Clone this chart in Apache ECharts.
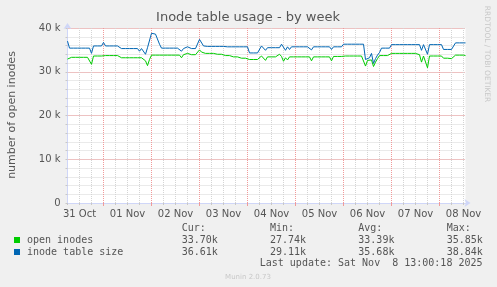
<!DOCTYPE html>
<html>
<head>
<meta charset="utf-8">
<script src="https://cdn.jsdelivr.net/npm/echarts@6/dist/echarts.min.js"></script>
<style>
html,body{margin:0;padding:0;background:#f0f0f0;}
#c{width:497px;height:287px;}
</style>
</head>
<body>
<div id="c"></div>
<script>
// hours since 31 Oct 00:00, one sample per hour, from hour 6 to hour 205 (08 Nov 13:00)
var firstHour = 6;
var lastHour = 205;
var dayLabels = ['31 Oct','01 Nov','02 Nov','03 Nov','04 Nov','05 Nov','06 Nov','07 Nov','08 Nov'];
var dayLabelHours = [12,36,60,84,108,132,156,180,204];
var dayBoundaries = [24,48,72,96,120,144,168,192];
var minorHours = [6,12,18,30,36,42,54,60,66,78,84,90,102,108,114,126,132,138,150,156,162,174,180,186,198,204];
var yTickLabels = ['0','10 k','20 k','30 k','40 k'];

// open inodes (thousands)
var openInodes = [
 32.9,33.3,33.3,33.3,33.3,33.3,33.3,33.3,33.3,33.3,33.3,33.3,31.7,33.6,33.6,33.6,33.6,33.6,
 33.7,33.7,33.7,33.7,33.7,33.7,33.7,33.7,33.7,33.2,33.2,33.2,33.2,33.2,33.2,33.2,33.2,33.2,33.2,33.2,33.2,32.5,31.4,32.8,
 33.8,33.8,33.8,33.8,33.8,33.8,33.8,33.8,33.8,33.8,33.8,33.8,33.8,33.8,33.8,33.2,33.9,33.9,34.2,33.9,33.9,33.9,33.9,33.5,
 35.0,34.5,34.2,34.2,34.2,34.2,34.2,34.2,34.0,34.0,34.0,34.0,34.0,33.7,33.7,33.7,33.7,33.4,33.4,33.4,33.4,33.1,33.1,33.1,
 33.1,32.8,32.8,32.8,32.8,32.8,32.4,33.6,33.6,32.6,33.4,33.4,33.4,33.4,33.4,33.4,34.0,33.5,32.4,33.2,32.7,33.4,33.4,33.4,
 33.4,33.4,33.4,33.4,33.4,33.4,33.4,33.4,32.5,33.4,33.4,33.4,33.4,33.4,33.4,33.4,33.4,33.4,32.5,33.5,33.5,33.5,33.1,33.5,
 33.6,33.6,33.6,33.6,33.6,33.6,33.6,33.6,33.6,33.6,33.6,31.3,32.6,32.5,32.7,31.2,32.2,33.0,33.7,33.7,33.7,33.7,33.7,33.7,
 34.2,34.2,34.2,34.2,34.2,34.2,34.2,34.2,34.2,34.2,34.2,34.2,34.2,33.9,33.9,32.2,33.6,33.6,30.9,33.6,33.6,33.6,33.6,33.6,
 33.6,33.6,33.1,33.1,33.1,32.9,33.0,33.4,33.8,33.8,33.8,33.8,33.8,33.7
];
// inode table size (thousands)
var tableSize = [
 37.0,35.4,35.4,35.4,35.4,35.4,35.4,35.4,35.4,35.4,35.4,35.4,34.2,35.9,35.9,35.9,35.9,35.9,
 36.7,35.9,35.9,35.9,35.9,35.9,35.9,35.9,35.9,35.3,35.3,35.3,35.3,35.3,35.3,35.3,35.3,35.3,34.7,35.3,35.3,34.0,35.5,35.5,
 38.8,38.8,38.6,38.5,36.3,35.4,35.4,35.4,35.8,35.4,35.4,35.4,35.4,35.4,35.4,34.7,35.3,35.3,35.7,35.3,35.3,35.3,35.3,35.0,
 37.4,37.2,35.9,35.8,35.8,35.8,35.8,35.8,35.8,35.8,35.8,35.8,35.8,35.8,35.7,35.7,35.7,35.7,35.7,35.7,35.7,35.7,35.7,35.7,
 35.7,34.3,34.3,34.3,34.3,34.3,34.3,35.9,35.9,34.9,35.5,35.5,35.5,35.5,35.5,35.5,35.5,36.3,36.3,34.9,35.7,35.1,35.7,35.7,
 35.7,36.0,35.7,35.7,35.7,35.7,35.7,35.7,35.0,35.7,35.7,35.7,35.7,35.7,35.7,35.7,35.7,35.7,35.1,35.7,35.7,35.7,35.7,35.7,
 36.3,36.3,36.3,36.3,36.3,36.3,36.3,36.3,36.3,36.3,36.3,32.8,33.0,33.2,34.2,31.9,33.0,33.8,34.4,35.4,35.4,35.4,35.4,35.4,
 36.2,36.2,36.2,36.2,36.2,36.2,36.2,36.2,36.2,36.2,36.2,36.2,36.2,36.2,36.2,34.9,36.2,36.2,34.0,36.2,36.2,36.2,36.2,36.2,
 36.2,36.2,35.1,35.1,35.1,35.1,35.1,35.1,36.6,36.6,36.6,36.6,36.6,36.6
];

var seriesNames = ['open inodes','inode table size'];
var seriesColors = ['#00cc00','#0066b3'];
var statHeaders = ['Cur:','Min:','Avg:','Max:'];
var statsOpen = ['33.70k','27.74k','33.39k','35.85k'];
var statsSize = ['36.61k','29.11k','35.68k','38.84k'];
var lastUpdate = 'Last update: Sat Nov  8 13:00:18 2025';

function pairs(arr){ return arr.map(function(v,i){ return [firstHour + i, v]; }); }

var FONT = 'DejaVu Sans';
var MONO = 'DejaVu Sans Mono';
var TXT = '#555';
var axisCol = '#cfd6f8';
var minorGrid = {color:'#d4d4d4', width:1, type:[1,1]};
var majorGrid = {color:'#f09a9a', width:1, type:[1,1]};

var chart = echarts.init(document.getElementById('c'), null, {renderer:'canvas'});

var statCols = [181.7, 270, 358.3, 446.7];
var graphics = [
  {type:'text', x:248, y:18, style:{text:'Inode table usage - by week', font:'13px '+FONT, fill:TXT, align:'center', verticalAlign:'middle'}},
  {type:'text', x:12, y:115, rotation:Math.PI/2, style:{text:'number of open inodes', font:'11px '+FONT, fill:TXT, align:'center', verticalAlign:'middle'}},
  {type:'text', x:487, y:54, rotation:-Math.PI/2, style:{text:'RRDTOOL / TOBI OETIKER', font:'7.5px '+FONT, fill:'#c8c8c8', align:'center', verticalAlign:'middle'}},
  {type:'rect', shape:{x:14, y:237, width:6, height:6}, style:{fill:seriesColors[0]}},
  {type:'rect', shape:{x:14, y:249, width:6, height:6}, style:{fill:seriesColors[1]}},
  {type:'text', x:27, y:240, style:{text:seriesNames[0], font:'10px '+MONO, fill:TXT, verticalAlign:'middle'}},
  {type:'text', x:27, y:252, style:{text:seriesNames[1], font:'10px '+MONO, fill:TXT, verticalAlign:'middle'}},
  {type:'text', x:482.5, y:263.5, style:{text:lastUpdate, font:'10px '+MONO, fill:TXT, align:'right', verticalAlign:'middle'}},
  {type:'text', x:248, y:277, style:{text:'Munin 2.0.73', font:'7px '+FONT, fill:'#c8c8c8', align:'center', verticalAlign:'middle'}}
];
statHeaders.forEach(function(h,i){
  graphics.push({type:'text', x:statCols[i], y:228, style:{text:h, font:'10px '+MONO, fill:TXT, verticalAlign:'middle'}});
  graphics.push({type:'text', x:statCols[i], y:240, style:{text:statsOpen[i], font:'10px '+MONO, fill:TXT, verticalAlign:'middle'}});
  graphics.push({type:'text', x:statCols[i], y:252, style:{text:statsSize[i], font:'10px '+MONO, fill:TXT, verticalAlign:'middle'}});
});

var option = {
  backgroundColor:'#f0f0f0',
  animation:false,
  grid:{left:67.5, right:31.5, top:28, bottom:84, show:true, backgroundColor:'#ffffff', borderWidth:0, containLabel:false, outerBoundsMode:'none'},
  xAxis:[{
    type:'value', min:firstHour, max:lastHour,
    axisLine:{show:true, lineStyle:{color:axisCol, width:1}, symbol:['none','arrow'], symbolSize:[6,6], symbolOffset:[0,5]},
    axisTick:{show:true, length:2, customValues:minorHours, lineStyle:{color:'#c8c8c8'}},
    axisLabel:{show:true, margin:6, color:TXT, fontFamily:FONT, fontSize:10, customValues:dayLabelHours,
      formatter:function(v){ var i = dayLabelHours.indexOf(v); return i >= 0 ? dayLabels[i] : ''; }},
    splitLine:{show:true, lineStyle:minorGrid}
  },{
    type:'value', min:firstHour, max:lastHour, position:'bottom',
    axisLine:{show:false},
    axisTick:{show:true, length:3, customValues:dayBoundaries, lineStyle:{color:'#f09a9a'}},
    axisLabel:{show:false, customValues:dayBoundaries},
    splitLine:{show:true, lineStyle:majorGrid}
  }],
  yAxis:[{
    type:'value', min:0, max:40, interval:2,
    axisLine:{show:true, lineStyle:{color:axisCol, width:1}, symbol:['none','arrow'], symbolSize:[6,6], symbolOffset:[0,5]},
    axisTick:{show:true, length:2, lineStyle:{color:'#c8c8c8'}},
    axisLabel:{show:false},
    splitLine:{show:true, lineStyle:minorGrid}
  },{
    type:'value', min:0, max:40, interval:10, position:'left',
    axisLine:{show:false}, axisTick:{show:false},
    axisLabel:{show:true, margin:7, color:TXT, fontFamily:FONT, fontSize:10,
      formatter:function(v){ return yTickLabels[v/10]; }},
    splitLine:{show:true, lineStyle:majorGrid}
  }],
  graphic:graphics,
  series:[
    {type:'line', name:seriesNames[0], data:pairs(openInodes), showSymbol:false, symbol:'none',
      lineStyle:{color:seriesColors[0], width:1}, z:3},
    {type:'line', name:seriesNames[1], data:pairs(tableSize), showSymbol:false, symbol:'none',
      lineStyle:{color:seriesColors[1], width:1}, z:4}
  ]
};
chart.setOption(option);
</script>
</body>
</html>
